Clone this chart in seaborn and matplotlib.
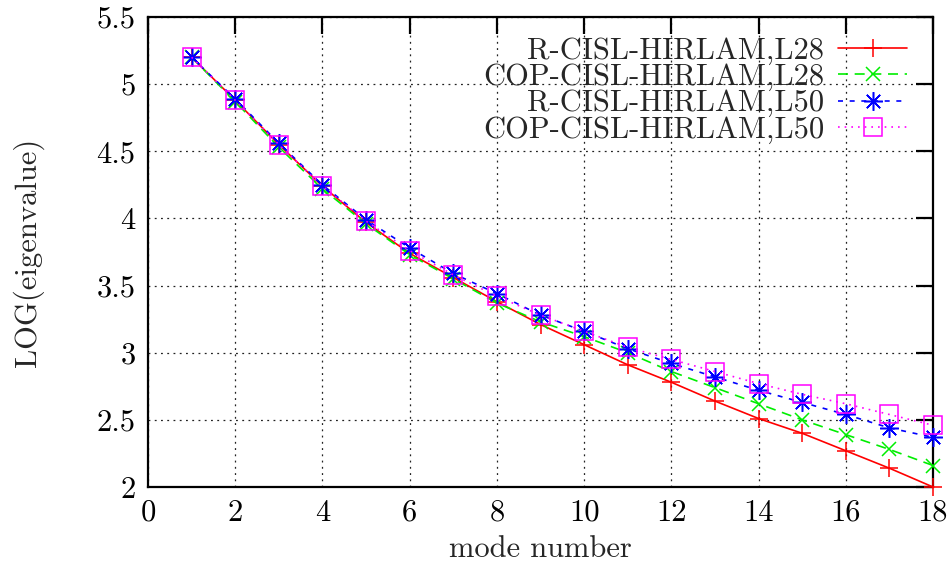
import matplotlib
matplotlib.use("Agg")
import matplotlib.pyplot as plt
import seaborn as sns
import numpy as np
import pandas as pd
from matplotlib.ticker import FuncFormatter

modes = list(range(1, 19))
r_l28 = [5.20, 4.88, 4.55, 4.24, 3.97, 3.74, 3.56, 3.38, 3.21, 3.06, 2.91, 2.78, 2.64, 2.51, 2.40, 2.27, 2.14, 2.00]
cop_l28 = [5.20, 4.87, 4.53, 4.22, 3.96, 3.73, 3.55, 3.37, 3.23, 3.12, 3.00, 2.86, 2.74, 2.62, 2.50, 2.39, 2.28, 2.16]
r_l50 = [5.20, 4.89, 4.56, 4.25, 3.99, 3.78, 3.59, 3.44, 3.28, 3.16, 3.03, 2.92, 2.82, 2.72, 2.63, 2.54, 2.44, 2.37]
cop_l50 = [5.20, 4.88, 4.55, 4.24, 3.98, 3.76, 3.58, 3.42, 3.28, 3.16, 3.04, 2.95, 2.86, 2.77, 2.69, 2.62, 2.54, 2.46]
labels = ["R-CISL-HIRLAM,L28", "COP-CISL-HIRLAM,L28", "R-CISL-HIRLAM,L50", "COP-CISL-HIRLAM,L50"]
x_ticks = list(range(0, 19, 2))
y_ticks = [2, 2.5, 3, 3.5, 4, 4.5, 5, 5.5]

sns.set_theme(style="white")
plt.rcParams['font.family'] = ['cmr10', 'DejaVu Serif']
plt.rcParams['axes.formatter.use_mathtext'] = True

fig = plt.figure(figsize=(9.51, 5.71), dpi=100)
ax = fig.add_axes([148/951, 1-487/571, (933-148)/951, (487-17)/571])

styles = [
    dict(color="#ff0000", linestyle="-", marker="+", markersize=12.5),
    dict(color="#00ee00", linestyle=(0, (6, 4)), marker="x", markersize=10),
    dict(color="#0000ff", linestyle=(0, (3, 4)), marker=(8, 2, 0), markersize=13.5),
    dict(color="#ff00ff", linestyle=(0, (1, 3)), marker="s", markersize=12.5),
]
series = [r_l28, cop_l28, r_l50, cop_l50]
for vals, lab, st in zip(series, labels, styles):
    df = pd.DataFrame({"mode": modes, "val": vals})
    sns.lineplot(data=df, x="mode", y="val", ax=ax, label=lab, color=st["color"])
    ln = ax.lines[-1]
    ln.set_linestyle(st["linestyle"])
    ln.set_linewidth(1.2)
    ln.set_marker(st["marker"])
    ln.set_markersize(st["markersize"])
    ln.set_markeredgewidth(1.1)
    ln.set_markeredgecolor(st["color"])
    ln.set_markerfacecolor("none")
    ln.set_clip_on(False)
    ln.set_zorder(3)

ax.set_xlim(0, 18)
ax.set_ylim(2, 5.5)
ax.set_xticks(x_ticks)
ax.set_yticks(y_ticks)
ax.yaxis.set_major_formatter(FuncFormatter(lambda v, p: "%g" % v))
ax.xaxis.set_major_formatter(FuncFormatter(lambda v, p: "%g" % v))
ax.tick_params(axis="both", which="major", direction="in", length=12, width=1.6,
               labelsize=22, pad=9, top=True, right=True, colors="black")
for s in ax.spines.values():
    s.set_visible(True)
    s.set_color("black")
    s.set_linewidth(1.6)
ax.grid(True, color="#222222", linestyle=(0, (1.5, 3.5)), linewidth=0.9)
ax.set_axisbelow(True)

ax.set_xlabel("mode number", fontsize=22, labelpad=6)
ax.set_ylabel("LOG(eigenvalue)", fontsize=22, labelpad=38)

leg = ax.legend(loc="upper right", bbox_to_anchor=(907/951, 1-37/571),
                bbox_transform=fig.transFigure, frameon=False, markerfirst=False,
                fontsize=22, handlelength=2.25, handletextpad=0.45,
                labelspacing=-0.04, borderpad=0, borderaxespad=0)

fig.savefig("out.png", dpi=100)
